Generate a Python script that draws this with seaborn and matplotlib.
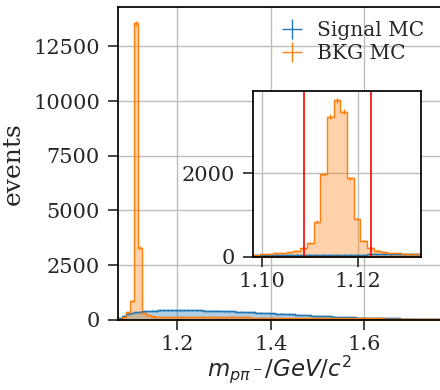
import numpy as np
import pandas as pd
import matplotlib
matplotlib.use("Agg")
import matplotlib.pyplot as plt
import seaborn as sns

# ---------------------------------------------------------------------------
# Data
# ---------------------------------------------------------------------------
MAIN_LO, MAIN_HI, MAIN_NBINS = 1.074, 1.762, 80

signal_main = [
    60, 190, 265, 315, 350, 372, 390, 402, 412, 420,
    428, 433, 438, 441, 443, 444, 443, 441, 438, 434,
    430, 425, 420, 414, 408, 401, 394, 387, 380, 372,
    364, 356, 348, 340, 331, 322, 313, 304, 295, 286,
    276, 266, 256, 246, 236, 226, 216, 206, 196, 186,
    176, 166, 157, 148, 139, 131, 123, 116, 109, 102,
    96, 91, 86, 81, 77, 73, 70, 67, 64, 61,
    59, 57, 55, 53, 51, 50, 48, 47, 46, 45,
]
bkg_main = [
    35, 110, 350, 864, 13560, 3300, 310, 200, 160, 145,
    138, 134, 131, 129, 127, 125, 124, 122, 121, 120,
    119, 118, 117, 116, 115, 114, 113, 112, 111, 110,
    109, 108, 107, 105, 104, 103, 101, 100, 98, 97,
    95, 94, 92, 91, 89, 88, 86, 85, 83, 82,
    80, 79, 77, 76, 74, 73, 71, 70, 68, 67,
    66, 65, 63, 62, 61, 60, 59, 58, 57, 56,
    55, 54, 53, 52, 51, 50, 49, 48, 47, 46,
]

LAMBDA_MASS = 1.11568
ZOOM_HALF = 0.0175
ZOOM_NBINS = 25
CUT_LO, CUT_HI = 1.1087, 1.1227

signal_zoom = [45, 46, 47, 47, 48, 48, 49, 49, 50, 50, 50, 51, 51,
               51, 52, 52, 52, 53, 53, 53, 53, 54, 54, 54, 54]
bkg_zoom = [40, 64, 72, 80, 88, 104, 135, 199, 319, 837, 1968, 3347, 3745,
            3467, 1873, 900, 383, 199, 143, 104, 88, 80, 72, 72, 64]

labels = ["Signal MC", "BKG MC"]
colors = ["#1f77b4", "#ff7f0e"]

# ---------------------------------------------------------------------------
# Style
# ---------------------------------------------------------------------------
sns.set_style("ticks", {"axes.grid": True})
plt.rcParams.update({
    "font.family": "serif",
    "font.serif": ["DejaVu Serif"],
    "mathtext.fontset": "dejavusans",
    "axes.edgecolor": "black",
    "axes.linewidth": 1.25,
    "grid.color": "#bdbdbd",
    "grid.linewidth": 1.0,
    "xtick.major.size": 7,
    "ytick.major.size": 7,
    "xtick.major.width": 1.2,
    "ytick.major.width": 1.2,
    "xtick.major.pad": 4,
    "ytick.major.pad": 6,
    "xtick.labelsize": 15,
    "ytick.labelsize": 15,
    "axes.labelsize": 18,
    "legend.fontsize": 14.5,
})


def draw_hist(ax, lo, hi, nbins, counts, color, label, lw=1.0):
    counts = np.asarray(counts, float)
    width = (hi - lo) / nbins
    centers = lo + width * (np.arange(nbins) + 0.5)
    df = pd.DataFrame({"x": centers, "w": counts})
    sns.histplot(data=df, x="x", weights="w", bins=nbins, binrange=(lo, hi),
                 element="step", fill=True, alpha=0.35, color=color,
                 linewidth=lw, ax=ax)
    ax.errorbar(centers, counts, xerr=width / 2, yerr=np.sqrt(counts),
                fmt="none", ecolor=color, elinewidth=1.0, label=label)


fig = plt.figure(figsize=(4.4, 3.9), dpi=100)
ax = fig.add_axes([0.268, 0.18, 0.735, 0.802])

for counts, color, label in zip([signal_main, bkg_main], colors, labels):
    draw_hist(ax, MAIN_LO, MAIN_HI, MAIN_NBINS, counts, color, label)

ax.set_xlim(1.074, 1.764)
ax.set_ylim(0, 14300)
ax.set_xticks([1.2, 1.4, 1.6])
ax.set_yticks([0, 2500, 5000, 7500, 10000, 12500])
ax.set_xlabel(r"$m_{p\pi^-}/GeV/c^2$", labelpad=-0.5, fontsize=16.5)
ax.set_ylabel("events", labelpad=6)
ax.legend(loc="upper left", frameon=False, bbox_to_anchor=(0.46, 1.0),
          handlelength=1.1, handletextpad=0.7, labelspacing=0.2,
          borderaxespad=0.3)

# ---------------------------------------------------------------------------
# Inset around the Lambda peak
# ---------------------------------------------------------------------------
axin = fig.add_axes([0.5757, 0.3418, 0.3805, 0.4256])
z_lo, z_hi = LAMBDA_MASS - ZOOM_HALF, LAMBDA_MASS + ZOOM_HALF
for counts, color, label in zip([signal_zoom, bkg_zoom], colors, labels):
    draw_hist(axin, z_lo, z_hi, ZOOM_NBINS, counts, color, label)

axin.axvline(CUT_LO, color="red", lw=1.2)
axin.axvline(CUT_HI, color="red", lw=1.2)
axin.set_xlim(z_lo, z_hi)
axin.set_ylim(0, 3970)
axin.set_xticks([1.10, 1.12])
axin.set_xticklabels(["1.10", "1.12"])
axin.set_yticks([0, 2000])
axin.set_xlabel("")
axin.set_ylabel("")

fig.savefig("out.png", dpi=100)
plt.close(fig)
